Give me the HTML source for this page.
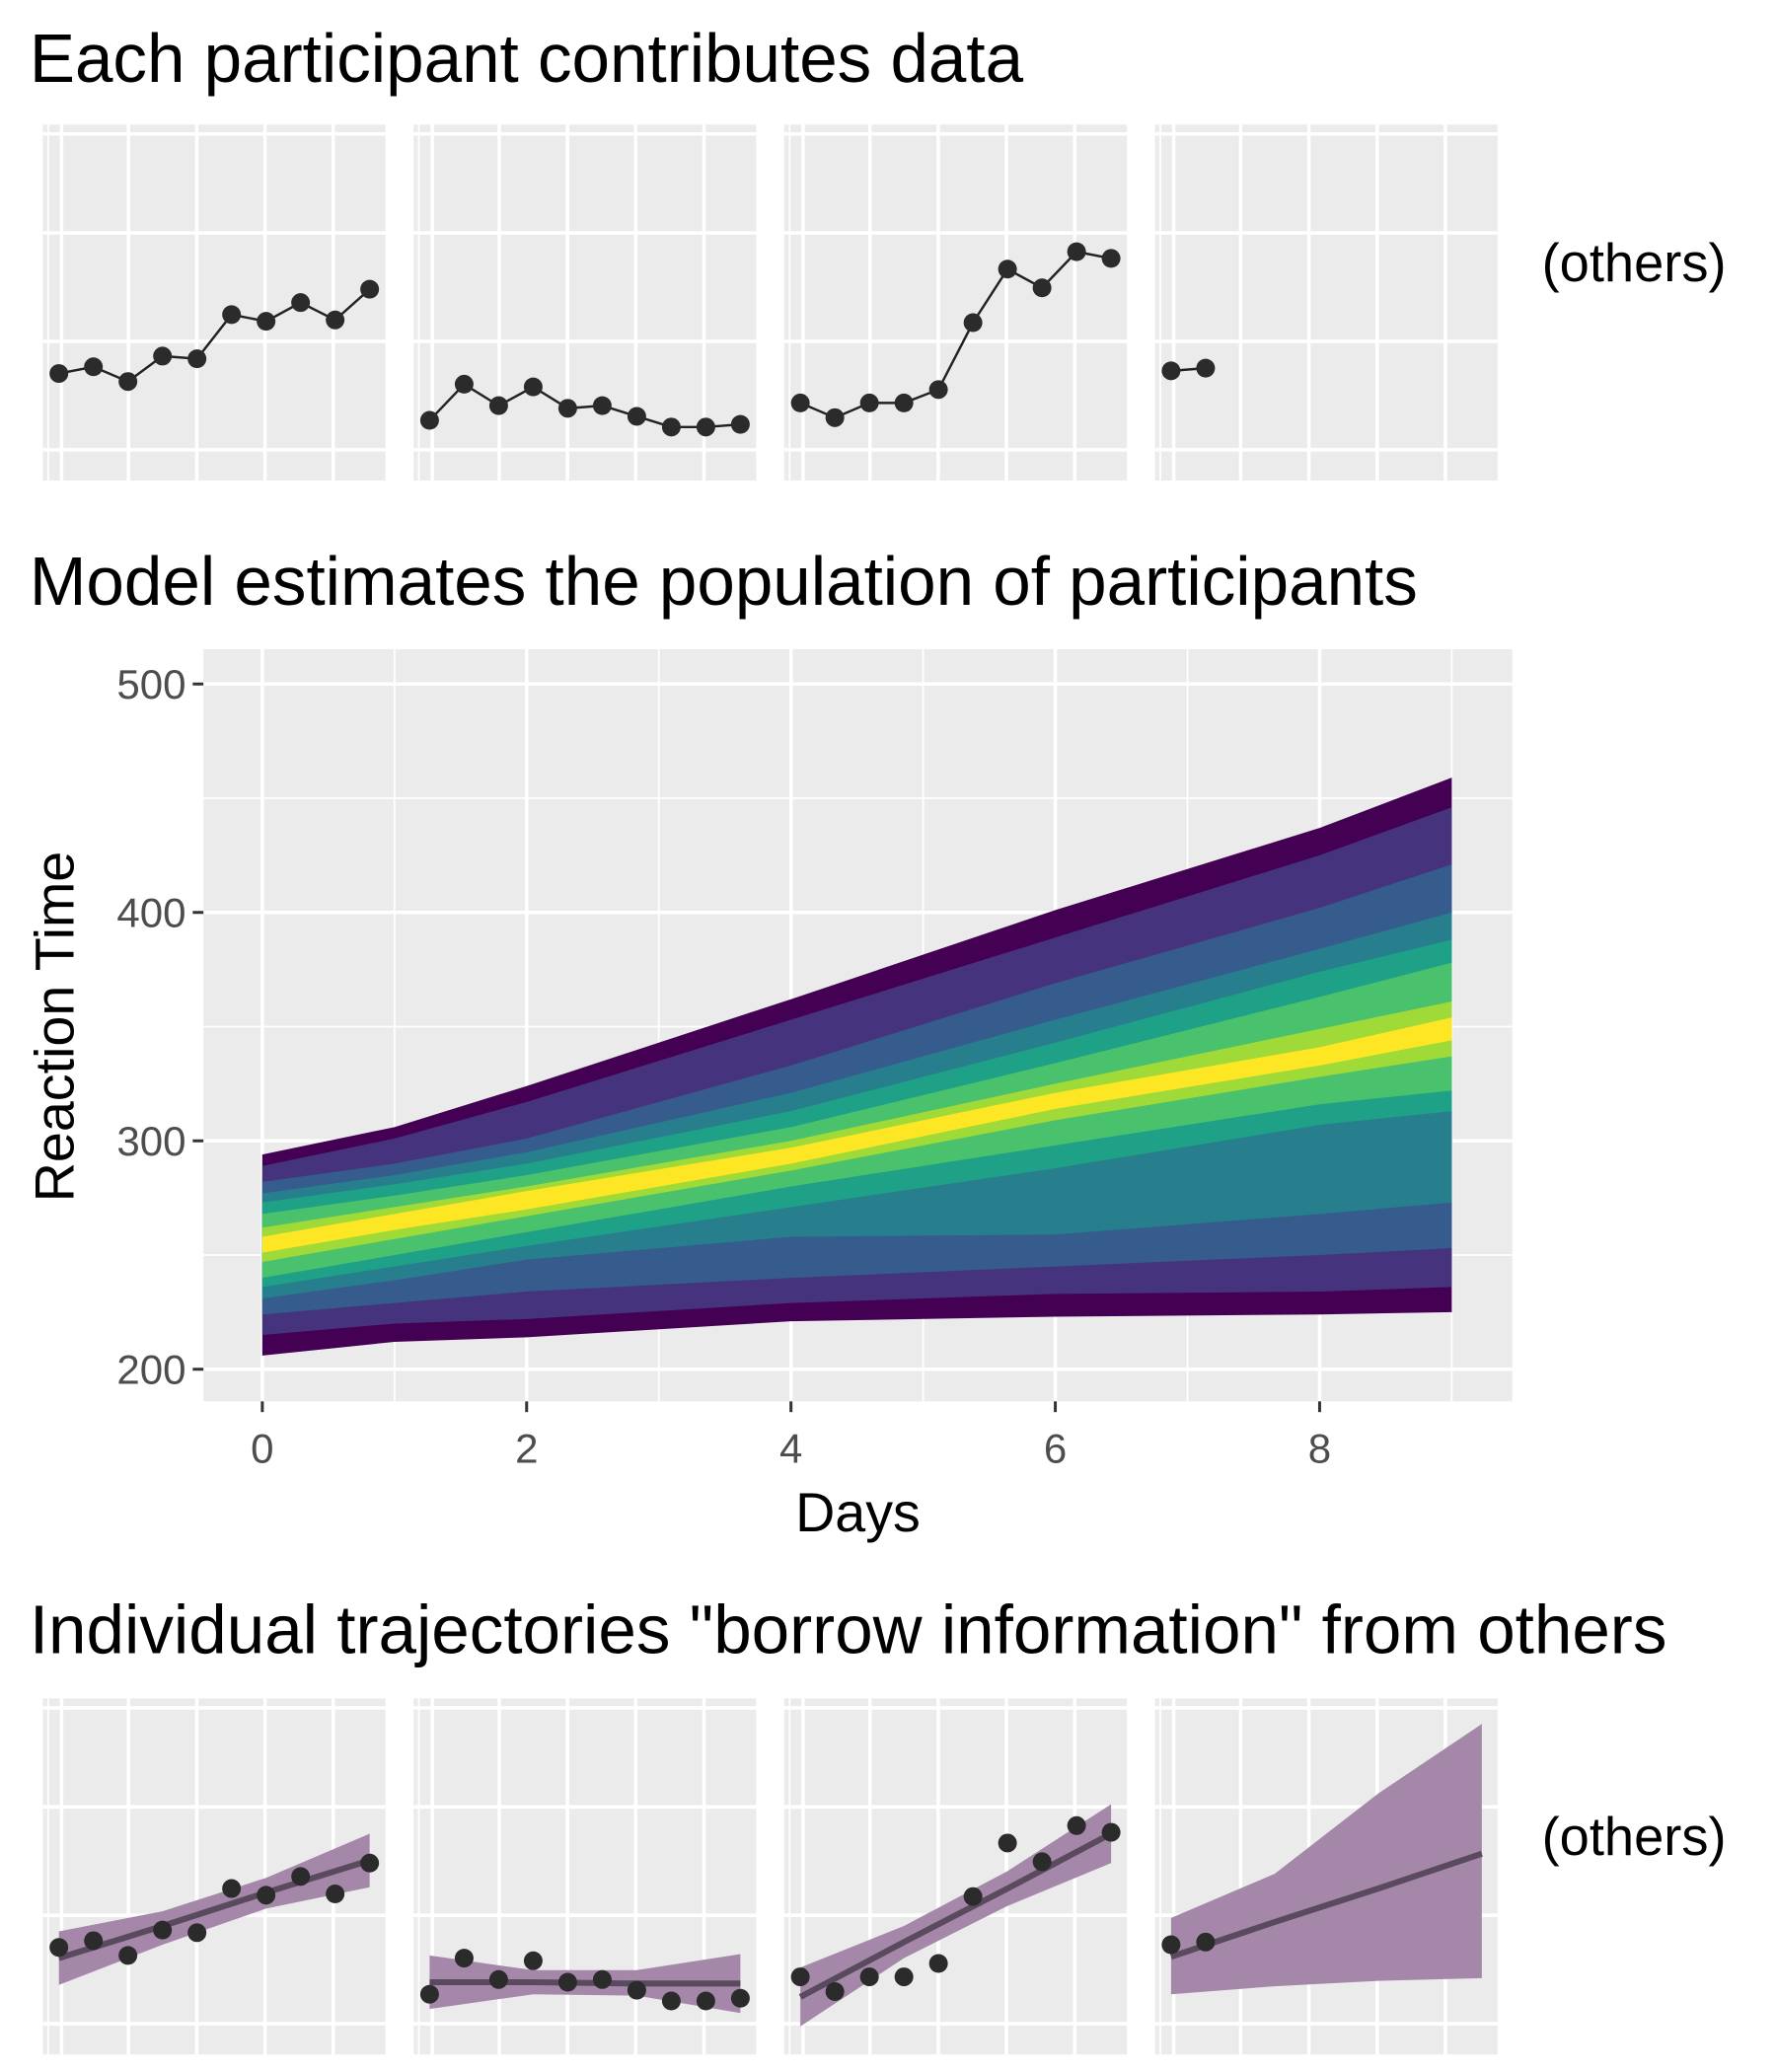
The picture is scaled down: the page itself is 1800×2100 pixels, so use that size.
<!DOCTYPE html>
<html><head><meta charset="utf-8"><style>
html,body{margin:0;padding:0;background:#fff;}
svg{display:block;font-family:"Liberation Sans",Arial,sans-serif;}
</style></head><body>
<svg id="root" width="1800" height="2100" viewBox="0 0 1327 1548" xmlns="http://www.w3.org/2000/svg">
<rect width="1327" height="1548" fill="#fff"/>
<text x="22" y="61" font-size="51">Each participant contributes data</text>
<text x="22" y="452" font-size="51">Model estimates the population of participants</text>
<text x="22" y="1235" font-size="51">Individual trajectories "borrow information" from others</text>
<text x="1152" y="210" font-size="40">(others)</text>
<text x="1152" y="1386" font-size="40">(others)</text>
<g id="small"></g>
<g id="main"></g>
</svg>
<script>
// ---- population chart data ----
const days = [0,1,2,4,6,8,9];
const bandColors = ["#440154","#46337E","#365C8D","#277F8E","#1FA187","#4AC16D","#A0DA39","#FDE725"];
// upper bounds per band (outer -> inner), one array per day
const upper = [
 [294,289,282,277,273,268,262,258],
 [306,301,290,285,281,276,271,268],
 [324,317,301,295,290,285,280,278],
 [362,353,333,321,313,306,300,297],
 [401,389,369,353,343,334,325,321],
 [437,425,402,384,374,363,349,341],
 [459,446,421,400,388,378,361,354]];
// lower bounds per band (outer -> inner)
const lower = [
 [206,215,224,231,236,240,247,251],
 [212,220,229,239,245,250,257,261],
 [214,222,234,248,254,260,267,270],
 [221,229,240,258,271,280,287,290],
 [223,233,245,259,288,298,309,314],
 [224,234,250,268,307,316,328,333],
 [225,236,253,273,313,322,337,344]];
const yTicks = [200,300,400,500];
const xTicks = [0,2,4,6,8];

// ---- small multiples data ----
const subjDays = [0,1,2,3,4,5,6,7,8,9];
const subj1 = [341,346,335,354,352,385,380,394,381,404];
const subj2 = [306,333,317,331,315,317,309,301,301,303];
const subj3 = [319,308,319,319,329,379,419,405,432,427];
const subj4 = [343,345];
const fitDays = [0,3,6,9];
const fit1 = [333,357,382,406];
const fit1Lo = [313,343,370,386];
const fit1Hi = [353,368,393,426];
const fit2 = [315,315,314,314];
const fit2Lo = [295,306,305,292];
const fit2Hi = [335,324,324,336];
const fit3 = [304,345,385,426];
const fit3Lo = [282,333,372,404];
const fit3Hi = [326,357,398,448];
const fit4 = [334,360,385,411];
const fit4Lo = [306,312,316,318];
const fit4Hi = [363,396,456,508];

const NS="http://www.w3.org/2000/svg";
function mk(tag,attrs,parent){const e=document.createElementNS(NS,tag);for(const k in attrs)e.setAttribute(k,attrs[k]);parent.appendChild(e);return e;}

// ---- main chart ----
const main=document.getElementById('main');
const px0=152,px1=1130,py0=485,py1=1047;
const X=d=>196+d*98.75;
const Y=v=>1023-(v-200)*1.7067;
const bg=mk('rect',{x:px0,y:py0,width:px1-px0,height:py1-py0,fill:'#EBEBEB'},main);


for(let v=150;v<=550;v+=50){const y=Y(v);if(y<py0||y>py1)continue;
 const l=mk('line',{x1:px0,x2:px1,y1:y,y2:y,stroke:'#fff','stroke-width':v%100===0?2.6:1.3},main);
 
 }
for(let d=-1;d<=10;d++){const x=X(d);if(x<px0||x>px1)continue;
 const l=mk('line',{x1:x,x2:x,y1:py0,y2:py1,stroke:'#fff','stroke-width':d%2===0?2.6:1.3},main);
 
 }
for(let b=0;b<bandColors.length;b++){
 let pts=days.map((d,i)=>X(d)+','+Y(upper[i][b]));
 let lo=days.map((d,i)=>X(d)+','+Y(lower[i][b])).reverse();
 const p=mk('polygon',{points:pts.concat(lo).join(' '),fill:bandColors[b]},main);
 
 }
yTicks.forEach(v=>{const y=Y(v);
 const t=mk('line',{x1:px0-8,x2:px0,y1:y,y2:y,stroke:'#333','stroke-width':2.2},main);
 
 
 const tx=mk('text',{x:px0-13,y:y+11,'text-anchor':'end','font-size':31,fill:'#4D4D4D'},main);
 tx.textContent=v;
 
 });
xTicks.forEach(d=>{const x=X(d);
 const t=mk('line',{x1:x,x2:x,y1:py1,y2:py1+8,stroke:'#333','stroke-width':2.2},main);
 
 
 const tx=mk('text',{x:x,y:py1+46,'text-anchor':'middle','font-size':31,fill:'#4D4D4D'},main);
 tx.textContent=d;
 
 });
const xt=mk('text',{x:641,y:1144,'text-anchor':'middle','font-size':41},main);
xt.textContent='Days';


const yt=mk('text',{x:0,y:0,'text-anchor':'middle','font-size':41,transform:'translate(55,767) rotate(-90)'},main);
yt.textContent='Reaction Time';



// ---- small multiples ----
const small=document.getElementById('small');
const panelX=[32,309,586,863];
const subjects=[subj1,subj2,subj3,subj4];
const fits=[[fit1,fit1Lo,fit1Hi],[fit2,fit2Lo,fit2Hi],[fit3,fit3Lo,fit3Hi],[fit4,fit4Lo,fit4Hi]];
function panel(top,row){
 panelX.forEach((x0,pi)=>{
  const g=mk('g',{},small);
  
  
  const r=mk('rect',{x:x0,y:top,width:256,height:266,fill:'#EBEBEB'},g);
  
  
  [7,81,162,243].forEach(dy=>{const l=mk('line',{x1:x0,x2:x0+256,y1:top+dy,y2:top+dy,stroke:'#fff','stroke-width':2.6},g);
   
   });
  [4,14,64,115,166,217].forEach(dx=>{const l=mk('line',{x1:x0+dx,x2:x0+dx,y1:top,y2:top+266,stroke:'#fff','stroke-width':dx===4?1.3:2.6},g);
   
   });
  const SX=d=>x0+12+d*25.8;
  const SY=v=>top+(620-v)-93;
  if(row===1){
   const [f,lo,hi]=fits[pi];
   const pts=fitDays.map((d,i)=>SX(d)+','+SY(hi[i])).concat(fitDays.map((d,i)=>SX(d)+','+SY(lo[i])).reverse());
   const rb=mk('polygon',{points:pts.join(' '),fill:'#A588A9'},g);
   
   
   const ln=mk('polyline',{points:fitDays.map((d,i)=>SX(d)+','+SY(f[i])).join(' '),fill:'none',stroke:'#5A4A5E','stroke-width':4.5},g);
   
   
  }
  const s=subjects[pi];
  if(row===0){
   const pl=mk('polyline',{points:s.map((v,i)=>SX(subjDays[i])+','+SY(v)).join(' '),fill:'none',stroke:'#222','stroke-width':1.8},g);
   
   
  }
  s.forEach((v,i)=>{const c=mk('circle',{cx:SX(subjDays[i]),cy:SY(v),r:7,fill:'#2B2B2B'},g);
   
   });
 });
}
panel(93,0);
panel(1269,1);
</script>
</body></html>
